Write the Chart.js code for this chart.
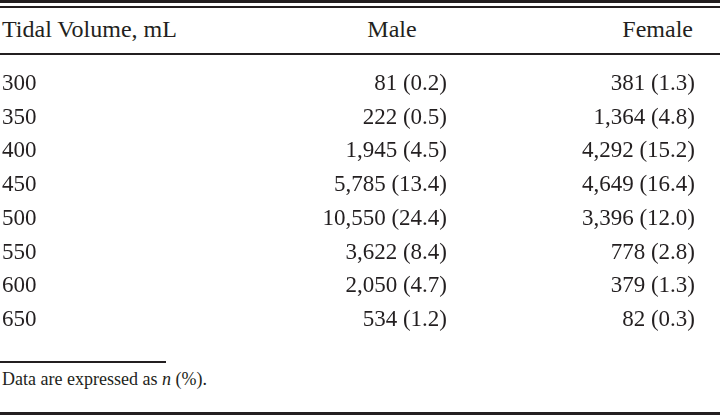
<!DOCTYPE html>
<html>
<head>
<meta charset="utf-8">
<script src="https://cdn.jsdelivr.net/npm/chart.js@4"></script>
<style>
  html, body { margin: 0; padding: 0; background: #fff; }
  #page { position: relative; width: 720px; height: 415px; overflow: hidden;
          font-family: "Liberation Serif", "Times New Roman", Times, Tinos, "DejaVu Serif", "Noto Serif", serif; color: #231f20; }
  .rule { position: absolute; left: 0; background: #231f20; }
  .head { position: absolute; top: 17px; font-size: 24px; line-height: 24px; white-space: nowrap; }
  #chartBox { position: absolute; left: 0; top: 67px; width: 720px; height: 270px; }
  #note { position: absolute; left: 2px; top: 370px; font-size: 18px; line-height: 18px; white-space: nowrap; }
</style>
</head>
<body>
<div id="page">
  <div class="rule" style="top:0;width:720px;height:3px"></div>
  <div class="rule" style="top:6px;width:720px;height:1.5px"></div>
  <div class="head" id="h0" style="left:2px"></div>
  <div class="head" id="h1" style="left:332px;width:120px;text-align:center"></div>
  <div class="head" id="h2" style="left:573px;width:120px;text-align:right"></div>
  <div class="rule" style="top:53px;width:720px;height:2px"></div>

  <div id="chartBox"><canvas id="tbl" width="720" height="270"></canvas></div>

  <div class="rule" style="top:361px;width:166px;height:2px"></div>
  <div id="note">Data are expressed as <i>n</i> (%).</div>
  <div class="rule" style="top:412px;width:720px;height:3px"></div>
</div>

<script>
// table data
const headers = ['Tidal Volume, mL', 'Male', 'Female'];
const tidalVolumes = ['300', '350', '400', '450', '500', '550', '600', '650'];
const maleN = [81, 222, 1945, 5785, 10550, 3622, 2050, 534];
const malePct = [0.2, 0.5, 4.5, 13.4, 24.4, 8.4, 4.7, 1.2];
const femaleN = [381, 1364, 4292, 4649, 3396, 778, 379, 82];
const femalePct = [1.3, 4.8, 15.2, 16.4, 12.0, 2.8, 1.3, 0.3];

document.getElementById('h0').textContent = headers[0];
document.getElementById('h1').textContent = headers[1];
document.getElementById('h2').textContent = headers[2];

const serif = '"Liberation Serif", "Times New Roman", Times, Tinos, "DejaVu Serif", "Noto Serif", serif';
const cellFont = '23px ' + serif;
const ink = '#231f20';

function cellText(n, pct) {
  return n.toLocaleString('en-US') + ' (' + pct.toFixed(1) + ')';
}

// each cell is a point; its label is drawn right-aligned at the point
const cellLabels = {
  id: 'cellLabels',
  afterDatasetsDraw(chart) {
    const ctx = chart.ctx;
    ctx.save();
    ctx.font = cellFont;
    ctx.fillStyle = ink;
    ctx.textAlign = 'right';
    ctx.textBaseline = 'middle';
    chart.data.datasets.forEach((ds, i) => {
      chart.getDatasetMeta(i).data.forEach((pt, j) => {
        ctx.fillText(ds.texts[j], pt.x, pt.y);
      });
    });
    ctx.restore();
  }
};

new Chart(document.getElementById('tbl'), {
  type: 'scatter',
  data: {
    datasets: [
      {
        label: headers[1],
        data: maleN.map((n, i) => ({ x: 1, y: i })),
        texts: maleN.map((n, i) => cellText(n, malePct[i])),
        pointRadius: 0
      },
      {
        label: headers[2],
        data: femaleN.map((n, i) => ({ x: 2, y: i })),
        texts: femaleN.map((n, i) => cellText(n, femalePct[i])),
        pointRadius: 0
      }
    ]
  },
  options: {
    responsive: false,
    animation: false,
    layout: { padding: { left: 2, right: 25, top: 17, bottom: 17 } },
    plugins: { legend: { display: false }, tooltip: { enabled: false } },
    scales: {
      x: { type: 'linear', min: 0, max: 2, display: false },
      y: {
        type: 'category',
        labels: tidalVolumes,
        offset: false,
        grid: { display: false },
        border: { display: false },
        ticks: {
          color: ink,
          font: { family: serif, size: 23 },
          crossAlign: 'far',
          padding: 0
        },
        afterFit: (s) => { s.width = 197; }
      }
    }
  },
  plugins: [cellLabels]
});
</script>
</body>
</html>
